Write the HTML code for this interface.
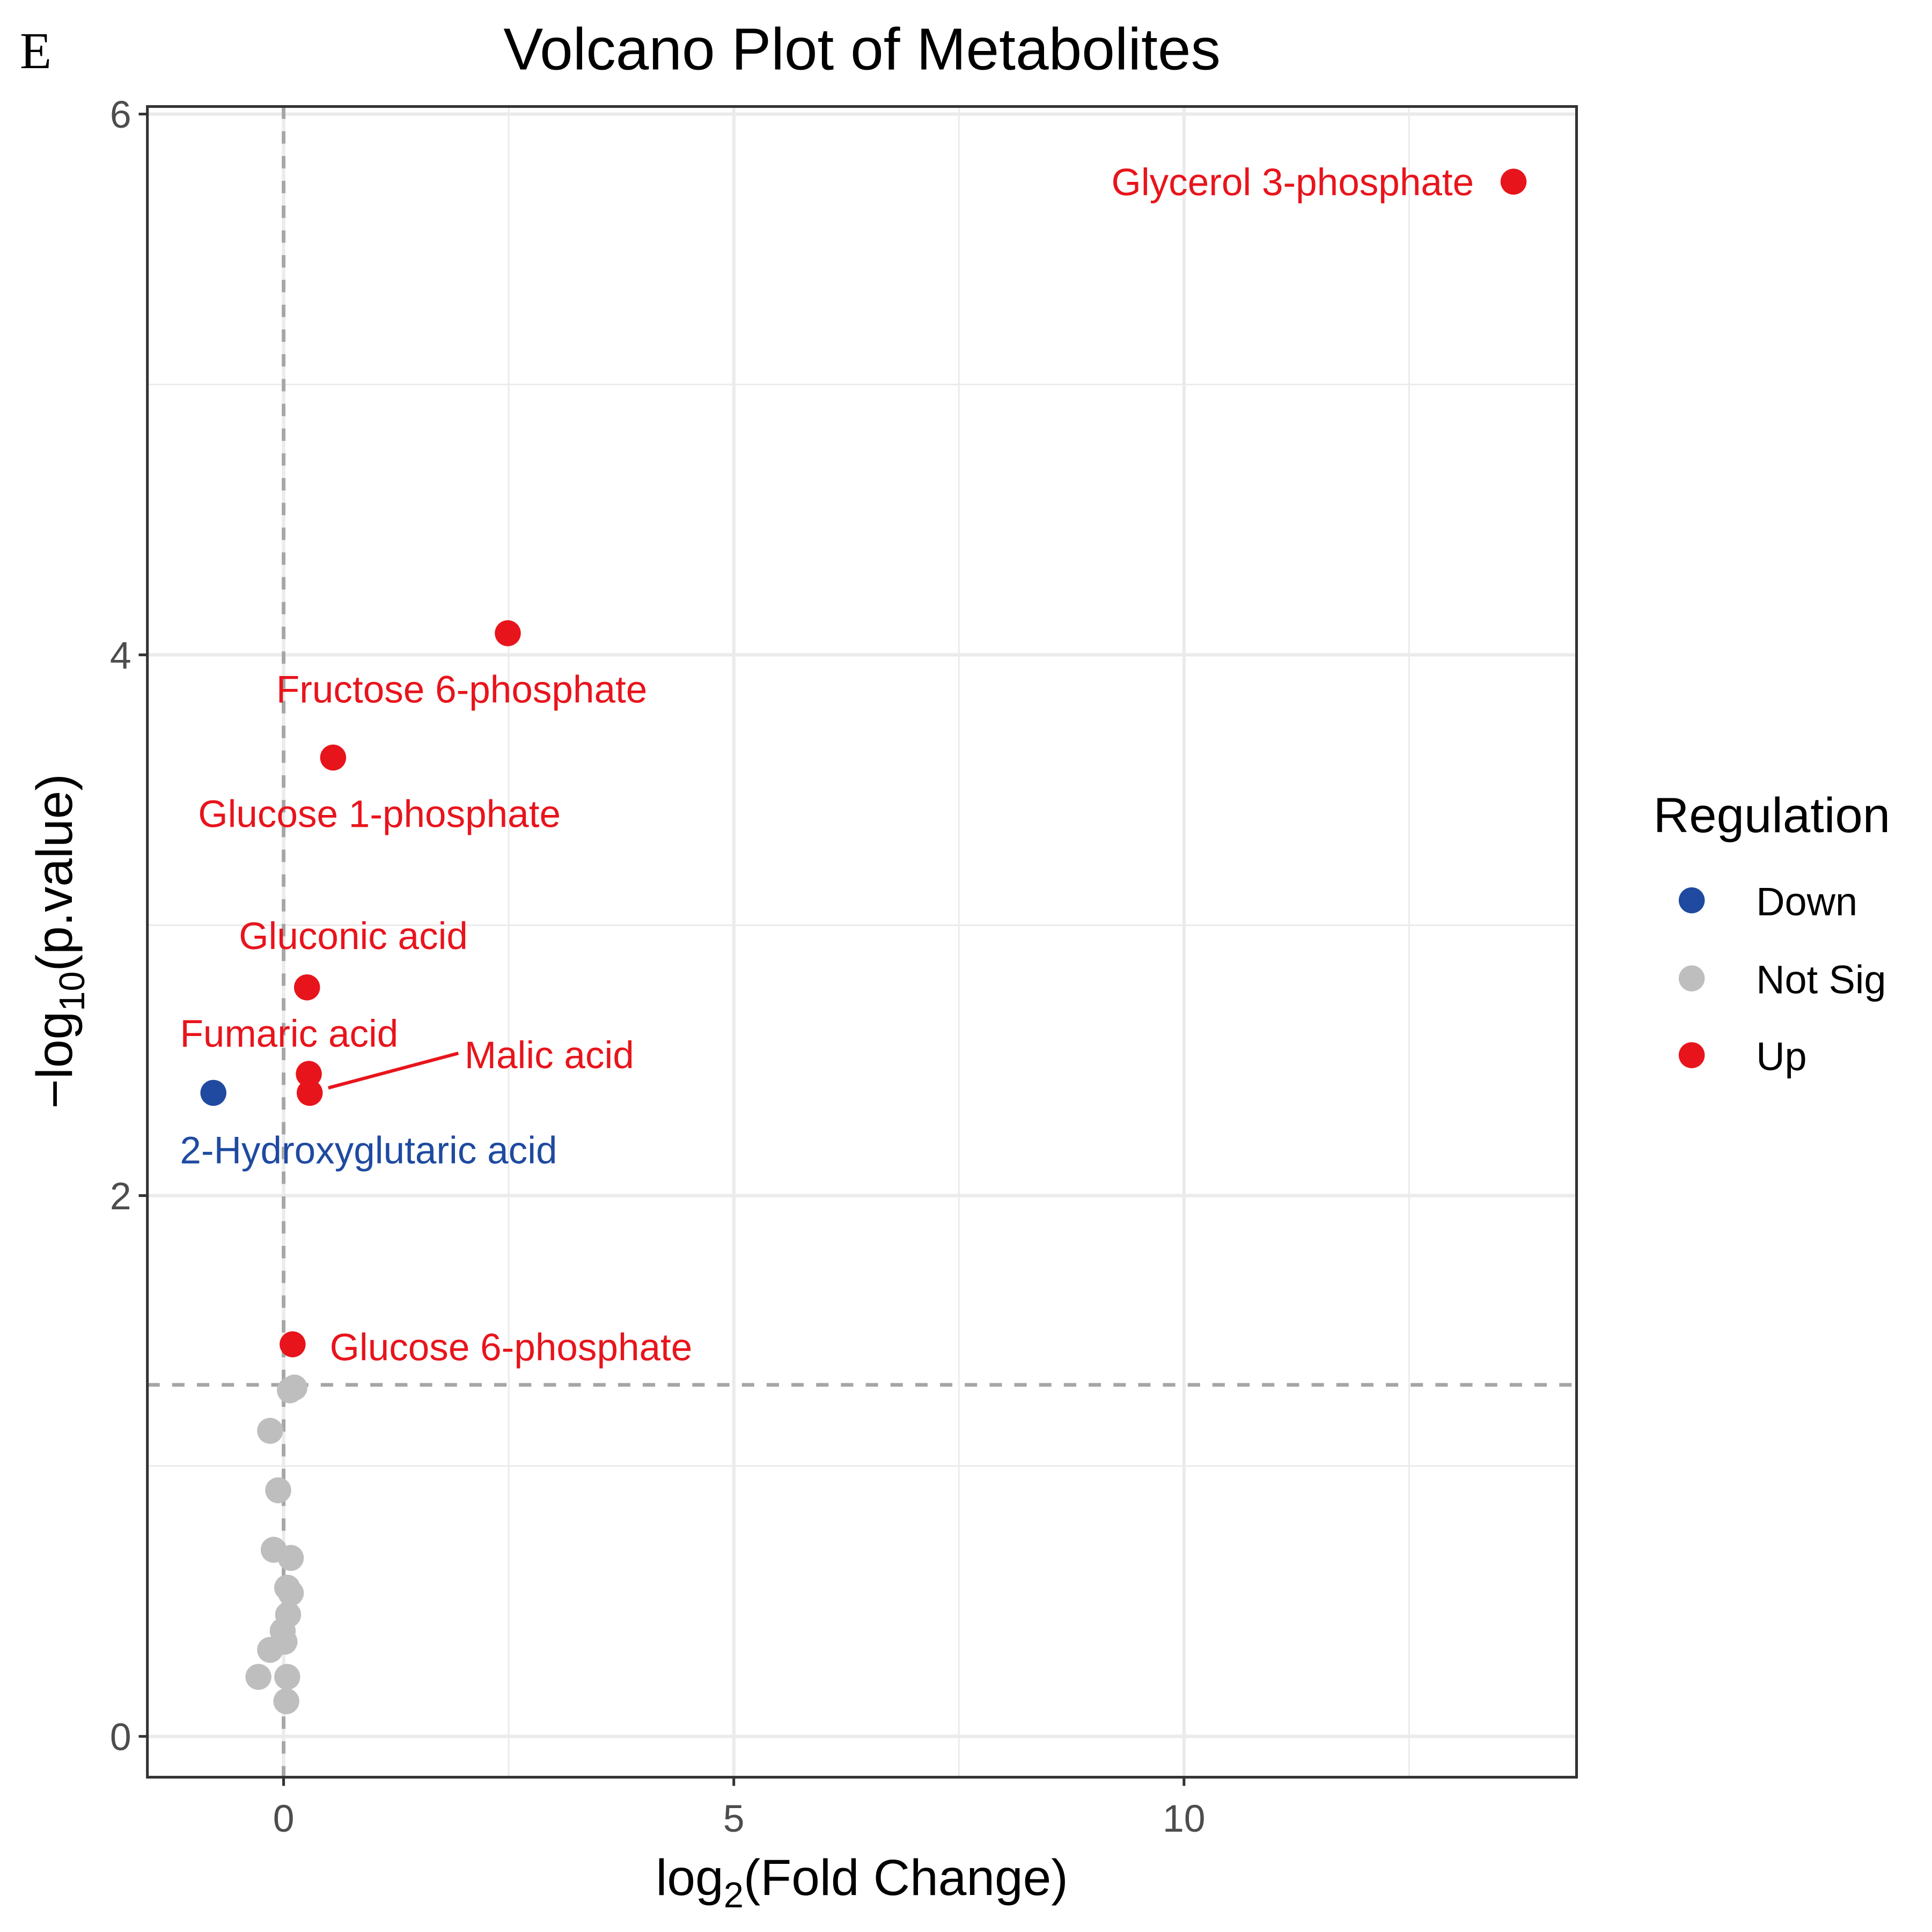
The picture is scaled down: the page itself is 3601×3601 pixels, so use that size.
<!DOCTYPE html>
<html><head><meta charset="utf-8"><style>html,body{margin:0;padding:0;background:#fff}svg{display:block}</style></head>
<body>
<svg id="chart" width="3601" height="3601" viewBox="0 0 1560 1560" xmlns="http://www.w3.org/2000/svg" font-family="'Liberation Sans', sans-serif">
<rect width="1560" height="1560" fill="#fff"/>
<text x="16" y="55" font-family="'Liberation Serif', serif" font-size="42" fill="#000">E</text>
<text x="696" y="56" text-anchor="middle" font-size="48" fill="#000">Volcano Plot of Metabolites</text>
<g id="grid"></g>
<g id="refs"></g>
<g id="pts"></g>
<g id="labels"></g>
<rect x="119" y="86" width="1154" height="1349" fill="none" stroke="#333" stroke-width="2.2"/>
<g id="axes"></g>
<text x="696" y="1530" text-anchor="middle" font-size="41" fill="#000">log<tspan font-size="29" dy="10">2</tspan><tspan dy="-10">(Fold Change)</tspan></text>
<text transform="translate(58,760) rotate(-90)" text-anchor="middle" font-size="41" fill="#000">−log<tspan font-size="29" dy="10">10</tspan><tspan dy="-10">(p.value)</tspan></text>
<g>
<text x="1335" y="672" font-size="40" fill="#000">Regulation</text>
<circle cx="1366" cy="727" r="10.5" fill="#1f4aa0"/>
<text x="1418" y="739" font-size="32" fill="#000">Down</text>
<circle cx="1366" cy="790" r="10.5" fill="#bebebe"/>
<text x="1418" y="802" font-size="32" fill="#000">Not Sig</text>
<circle cx="1366" cy="852" r="10.5" fill="#e8141c"/>
<text x="1418" y="864" font-size="32" fill="#000">Up</text>
</g>
</svg>
<script>
const names = ["Glycerol 3-phosphate","Fructose 6-phosphate","Glucose 1-phosphate","Gluconic acid","Fumaric acid","Malic acid","2-Hydroxyglutaric acid","Glucose 6-phosphate","ns1","ns2","ns3","ns4","ns5","ns6","ns7","ns8","ns9","ns10","ns11","ns12","ns13","ns14","ns15"];
const log2fc = [13.66,2.49,0.55,0.26,0.28,0.29,-0.78,0.10,0.12,0.07,-0.15,-0.06,-0.11,0.08,0.04,0.08,0.05,-0.01,-0.15,0.01,-0.28,0.04,0.03];
const negLogP = [5.75,4.08,3.62,2.77,2.45,2.38,2.38,1.45,1.29,1.28,1.13,0.91,0.69,0.66,0.55,0.53,0.45,0.39,0.32,0.35,0.22,0.22,0.13];
const regulation = ["Up","Up","Up","Up","Up","Up","Down","Up","NS","NS","NS","NS","NS","NS","NS","NS","NS","NS","NS","NS","NS","NS","NS"];
const xTicks = [0,5,10];
const xMinor = [2.5,7.5,12.5];
const yTicks = [0,2,4,6];
const yMinor = [1,3,5];
const pThreshold = 1.3;
const fcThreshold = 0;

const PL=119,PR=1273,PT=86,PB=1435;
const xMin=-1.513,xMax=14.36,yMin=-0.151,yMax=6.028;
const X=v=>PL+(v-xMin)/(xMax-xMin)*(PR-PL);
const Y=v=>PB-(v-yMin)/(yMax-yMin)*(PB-PT);
const NS="http://www.w3.org/2000/svg";
function mk(tag,attrs,parent){const e=document.createElementNS(NS,tag);for(const k in attrs)e.setAttribute(k,attrs[k]);parent.appendChild(e);return e;}
const grid=document.getElementById('grid'),refs=document.getElementById('refs'),pts=document.getElementById('pts'),labels=document.getElementById('labels'),axes=document.getElementById('axes');
xMinor.forEach(v=>{const l=mk('line',{x1:X(v),x2:X(v),y1:PT,y2:PB,stroke:'#ebebeb','stroke-width':1.3},grid);

});
yMinor.forEach(v=>{const l=mk('line',{x1:PL,x2:PR,y1:Y(v),y2:Y(v),stroke:'#ebebeb','stroke-width':1.3},grid);

});
xTicks.forEach(v=>{const l=mk('line',{x1:X(v),x2:X(v),y1:PT,y2:PB,stroke:'#ebebeb','stroke-width':2.7},grid);


const t=mk('line',{x1:X(v),x2:X(v),y1:PB,y2:PB+7,stroke:'#333','stroke-width':2.2},axes);


const tx=mk('text',{x:X(v),y:PB+44,'text-anchor':'middle','font-size':31,fill:'#4d4d4d'},axes);tx.textContent=v;

});
yTicks.forEach(v=>{const l=mk('line',{x1:PL,x2:PR,y1:Y(v),y2:Y(v),stroke:'#ebebeb','stroke-width':2.7},grid);


const t=mk('line',{x1:PL-7,x2:PL,y1:Y(v),y2:Y(v),stroke:'#333','stroke-width':2.2},axes);


const tx=mk('text',{x:PL-13,y:Y(v)+11,'text-anchor':'end','font-size':31,fill:'#4d4d4d'},axes);tx.textContent=v;

});
const vl=mk('line',{x1:X(fcThreshold),x2:X(fcThreshold),y1:PT,y2:PB,stroke:'#a6a6a6','stroke-width':3,'stroke-dasharray':'10 10'},refs);


const hl=mk('line',{x1:PL,x2:PR,y1:Y(pThreshold),y2:Y(pThreshold),stroke:'#a6a6a6','stroke-width':3,'stroke-dasharray':'10 10'},refs);


const col={Up:'#e8141c',Down:'#1f4aa0',NS:'#bebebe'};
const order=[...log2fc.keys()].sort((a,b)=>(regulation[a]==='NS'?0:1)-(regulation[b]==='NS'?0:1));
order.forEach(i=>{const c=mk('circle',{cx:X(log2fc[i]),cy:Y(negLogP[i]),r:10.5,fill:col[regulation[i]]},pts);

});
const lab=[[0,-32,11,'end'],[1,-187,56,'start'],[2,-109,56,'start'],[3,-55,-31,'start'],[4,-104,-22,'start'],[5,125,-20,'start'],[6,-27,57,'start'],[7,30,13,'start']];
lab.forEach(([i,dx,dy,anc])=>{const px=X(log2fc[i]),py=Y(negLogP[i]);
const t=mk('text',{x:px+dx,y:py+dy,'text-anchor':anc,'font-size':30.8,fill:col[regulation[i]]},labels);t.textContent=names[i];

});
const si=5;const seg=mk('line',{x1:X(log2fc[si])+15,y1:Y(negLogP[si])-4,x2:X(log2fc[si])+120,y2:Y(negLogP[si])-32,stroke:'#e8141c','stroke-width':2.7},labels);


</script>
</body></html>
